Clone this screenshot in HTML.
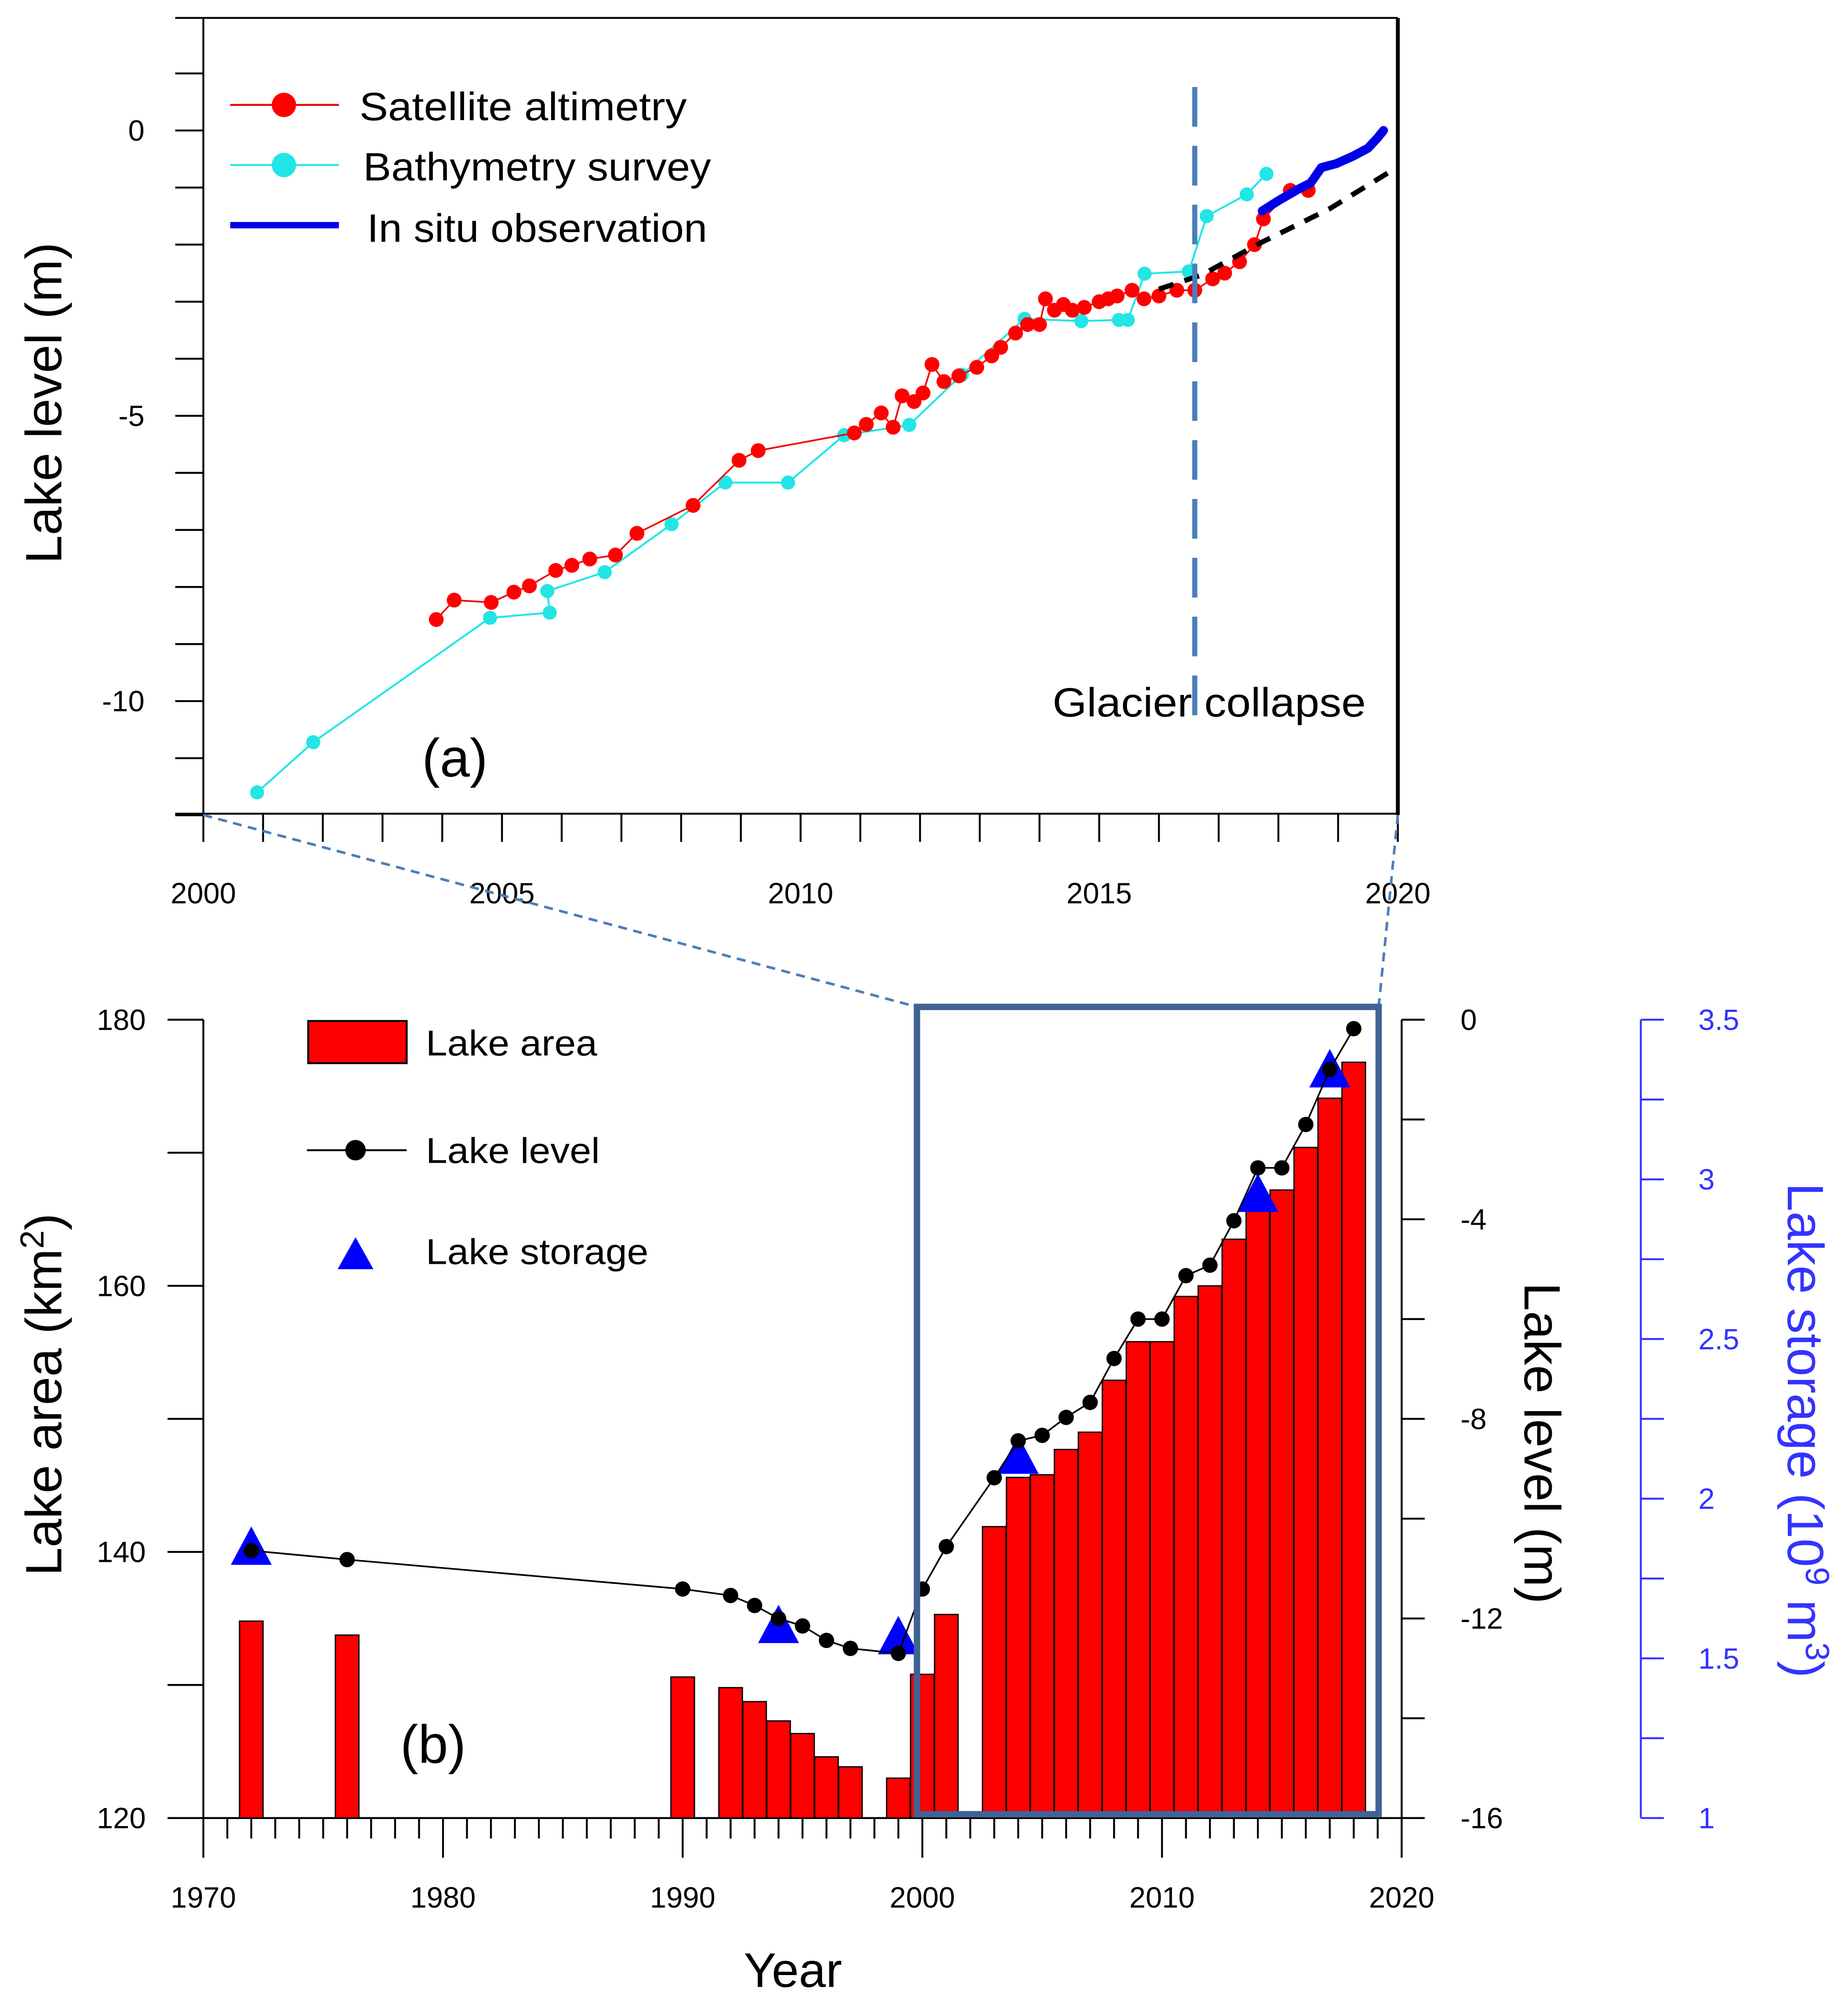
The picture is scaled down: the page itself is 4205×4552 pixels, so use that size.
<!DOCTYPE html>
<html><head><meta charset="utf-8"><style>
html,body{margin:0;padding:0;background:#fff}
svg{display:block}
text{font-family:"Liberation Sans",sans-serif}
</style></head><body>
<svg id="c" width="4205" height="4552" viewBox="0 0 1445 1564" preserveAspectRatio="none" xmlns="http://www.w3.org/2000/svg">
<rect x="0" y="0" width="1445" height="1564" fill="#fff"/>
<g id="top"></g>
<g id="bot"></g>
</svg>
<script>
// ---------- Panel (a) data ----------
const satYears=[2003.9,2004.2,2004.82,2005.2,2005.46,2005.9,2006.17,2006.47,2006.9,2007.26,2008.2,2008.97,2009.29,2010.9,2011.1,2011.35,2011.55,2011.7,2011.9,2012.05,2012.2,2012.4,2012.65,2012.95,2013.2,2013.35,2013.6,2013.8,2014.0,2014.1,2014.25,2014.4,2014.55,2014.75,2015.0,2015.15,2015.3,2015.55,2015.75,2016.0,2016.3,2016.6,2016.9,2017.1,2017.35,2017.6,2017.75,2018.2,2018.5];
const satLevels=[-8.57,-8.23,-8.27,-8.09,-7.98,-7.71,-7.62,-7.51,-7.44,-7.06,-6.57,-5.78,-5.61,-5.3,-5.15,-4.95,-5.2,-4.65,-4.75,-4.6,-4.1,-4.4,-4.3,-4.15,-3.95,-3.8,-3.55,-3.4,-3.4,-2.95,-3.15,-3.05,-3.15,-3.1,-3.0,-2.95,-2.9,-2.8,-2.95,-2.9,-2.8,-2.8,-2.6,-2.5,-2.3,-2.0,-1.55,-1.05,-1.05];
const batYears=[2000.9,2001.84,2004.8,2005.8,2005.76,2006.72,2007.84,2008.74,2009.79,2010.73,2011.82,2012.7,2013.75,2014.7,2015.33,2015.48,2015.76,2016.5,2016.8,2017.47,2017.8];
const batLevels=[-11.6,-10.72,-8.54,-8.45,-8.07,-7.74,-6.9,-6.17,-6.17,-5.34,-5.16,-4.28,-3.3,-3.34,-3.32,-3.32,-2.51,-2.47,-1.5,-1.12,-0.76];
const insituYears=[2017.73,2018.0,2018.33,2018.54,2018.72,2018.97,2019.25,2019.5,2019.66,2019.76];
const insituLevels=[-1.41,-1.23,-1.03,-0.92,-0.65,-0.58,-0.45,-0.31,-0.13,0];
const trendYears=[2016.0,2016.72,2017.7,2018.86,2019.87];
const trendLevels=[-2.78,-2.53,-1.97,-1.37,-0.72];
const topYTicks=[0,-5,-10];
const topXTicks=[2000,2005,2010,2015,2020];
const collapseYear=2016.6;

// ---------- Panel (b) data ----------
const areaYears=[1972,1976,1990,1992,1993,1994,1995,1996,1997,1999,2000,2001,2003,2004,2005,2006,2007,2008,2009,2010,2011,2012,2013,2014,2015,2016,2017,2018];
const areaValues=[134.8,133.75,130.6,129.8,128.75,127.3,126.35,124.6,123.85,123.0,130.8,135.3,141.9,145.6,145.8,147.7,149.0,152.9,155.8,155.8,159.2,160.0,163.5,165.7,167.2,170.4,174.1,176.8];
const levelYears=[1972,1976,1990,1992,1993,1994,1995,1996,1997,1999,2000,2001,2003,2004,2005,2006,2007,2008,2009,2010,2011,2012,2013,2014,2015,2016,2017,2018];
const levelValues=[-10.64,-10.82,-11.41,-11.54,-11.74,-12.0,-12.15,-12.44,-12.6,-12.7,-11.41,-10.56,-9.18,-8.44,-8.33,-7.97,-7.67,-6.79,-6.0,-6.0,-5.13,-4.92,-4.03,-2.97,-2.97,-2.1,-1.0,-0.18];
const storageYears=[1972,1994,1999,2004,2014,2017];
const storageValues=[1.845,1.6,1.565,2.13,2.95,3.34];
const areaTicks=[120,140,160,180];
const levelTicks=[0,-4,-8,-12,-16];
const storageTicks=[3.5,3,2.5,2,1.5,1];
const botXTicks=[1970,1980,1990,2000,2010,2020];

const NS='http://www.w3.org/2000/svg';
function mk(parent,tag,attrs,txt){const e=document.createElementNS(NS,tag);for(const k in attrs)e.setAttribute(k,attrs[k]);if(txt!==undefined)e.textContent=txt;parent.appendChild(e);return e;}

// ===== Panel a =====
const T=document.getElementById('top');
const ax=y=>159+(y-2000)*46.7, ay=v=>102-v*44.6;
let e;
e=mk(T,'line',{x1:137,y1:14,x2:1093,y2:14,stroke:'#000','stroke-width':1.5});

e=mk(T,'line',{x1:1093,y1:14,x2:1093,y2:637,stroke:'#000','stroke-width':3});

e=mk(T,'line',{x1:159,y1:14,x2:159,y2:637,stroke:'#000','stroke-width':1.5});

e=mk(T,'line',{x1:137,y1:636,x2:1093,y2:636,stroke:'#000','stroke-width':1.5});

for(let v=-12;v<=1;v++){e=mk(T,'line',{x1:137,y1:ay(v),x2:159,y2:ay(v),stroke:'#000','stroke-width':1.5});
}
topYTicks.forEach(v=>{e=mk(T,'text',{x:113,y:ay(v)+8,'font-size':23,'text-anchor':'end'},String(v));
});
for(let y=2000;y<=2020;y++){e=mk(T,'line',{x1:ax(y),y1:636,x2:ax(y),y2:658,stroke:'#000','stroke-width':1.5});
}
topXTicks.forEach(y=>{e=mk(T,'text',{x:ax(y),y:706,'font-size':23,'text-anchor':'middle'},String(y));
});
e=mk(T,'text',{x:0,y:0,'font-size':40,'text-anchor':'middle',transform:'translate(48,315) rotate(-90)'},'Lake level (m)');

function pts(xs,vs){return xs.map((x,i)=>ax(x)+','+ay(vs[i])).join(' ');}
e=mk(T,'polyline',{points:pts(batYears,batLevels),fill:'none',stroke:'#22e5e5','stroke-width':1.5});

batYears.forEach((x,i)=>{e=mk(T,'circle',{cx:ax(x),cy:ay(batLevels[i]),r:5.5,fill:'#22e5e5'});
});
e=mk(T,'polyline',{points:pts(satYears,satLevels),fill:'none',stroke:'#e00','stroke-width':1.3});

satYears.forEach((x,i)=>{e=mk(T,'circle',{cx:ax(x),cy:ay(satLevels[i]),r:5.8,fill:'#f00'});
});
e=mk(T,'polyline',{points:pts(trendYears,trendLevels),fill:'none',stroke:'#000','stroke-width':4,'stroke-dasharray':'12 9'});

e=mk(T,'polyline',{points:pts(insituYears,insituLevels),fill:'none',stroke:'#0000e6','stroke-width':7,'stroke-linejoin':'round','stroke-linecap':'round'});

e=mk(T,'line',{x1:ax(collapseYear),y1:68,x2:ax(collapseYear),y2:567,stroke:'#4a7ebb','stroke-width':4,'stroke-dasharray':'31 15'});

e=mk(T,'text',{x:823,y:560,'font-size':32,textLength:245,lengthAdjust:'spacingAndGlyphs'},'Glacier collapse');

e=mk(T,'text',{x:330,y:607,'font-size':42},'(a)');

e=mk(T,'line',{x1:180,y1:82,x2:265,y2:82,stroke:'#e00','stroke-width':1.5});

e=mk(T,'circle',{cx:222,cy:82,r:9.5,fill:'#f00'});

e=mk(T,'text',{x:281,y:94,'font-size':31,textLength:256,lengthAdjust:'spacingAndGlyphs'},'Satellite altimetry');

e=mk(T,'line',{x1:180,y1:129,x2:265,y2:129,stroke:'#22e5e5','stroke-width':1.5});

e=mk(T,'circle',{cx:222,cy:129,r:9.5,fill:'#22e5e5'});

e=mk(T,'text',{x:284,y:141,'font-size':31,textLength:272,lengthAdjust:'spacingAndGlyphs'},'Bathymetry survey');

e=mk(T,'line',{x1:180,y1:176,x2:265,y2:176,stroke:'#0000e6','stroke-width':5});

e=mk(T,'text',{x:287,y:189,'font-size':31,textLength:266,lengthAdjust:'spacingAndGlyphs'},'In situ observation');

e=mk(T,'line',{x1:159,y1:637,x2:717,y2:787,stroke:'#4a7ebb','stroke-width':2,'stroke-dasharray':'7 5'});

e=mk(T,'line',{x1:1093,y1:637,x2:1078,y2:787,stroke:'#4a7ebb','stroke-width':2,'stroke-dasharray':'7 5'});


// ===== Panel b =====
const B=document.getElementById('bot');
const bx=y=>159+(y-1970)*18.74, by=a=>1421-(a-120)*10.4, bl=v=>797-v*39, bs=s=>1421-(s-1)*249.6;
e=mk(B,'line',{x1:159,y1:797,x2:159,y2:1421,stroke:'#000','stroke-width':1.5});

e=mk(B,'line',{x1:159,y1:1421,x2:1096,y2:1421,stroke:'#000','stroke-width':1.5});

for(let a=120;a<=180;a+=10){e=mk(B,'line',{x1:131,y1:by(a),x2:159,y2:by(a),stroke:'#000','stroke-width':1.5});
}
areaTicks.forEach(a=>{e=mk(B,'text',{x:114,y:by(a)+8,'font-size':23,'text-anchor':'end'},String(a));
});
for(let y=1970;y<=2020;y++){const maj=y%10===0;e=mk(B,'line',{x1:bx(y),y1:1421,x2:bx(y),y2:maj?1452:1437,stroke:'#000','stroke-width':1.5});
}
botXTicks.forEach(y=>{e=mk(B,'text',{x:bx(y),y:1491,'font-size':23,'text-anchor':'middle'},String(y));
});
e=mk(B,'line',{x1:1096,y1:797,x2:1096,y2:1421,stroke:'#000','stroke-width':1.5});

for(let v=0;v>=-16;v-=2){e=mk(B,'line',{x1:1096,y1:bl(v),x2:1114,y2:bl(v),stroke:'#000','stroke-width':1.5});
}
levelTicks.forEach(v=>{e=mk(B,'text',{x:1142,y:bl(v)+8,'font-size':23},String(v));
});
e=mk(B,'text',{x:0,y:0,'font-size':40,'text-anchor':'middle',transform:'translate(1192,1128) rotate(90)'},'Lake level (m)');

e=mk(B,'line',{x1:1283,y1:797,x2:1283,y2:1421,stroke:'#3333ff','stroke-width':1.5});

for(let s=1;s<=3.51;s+=0.25){e=mk(B,'line',{x1:1283,y1:bs(s),x2:1301,y2:bs(s),stroke:'#3333ff','stroke-width':1.5});
}
storageTicks.forEach(s=>{e=mk(B,'text',{x:1328,y:bs(s)+8,'font-size':23,fill:'#3333ff'},String(s));
});
e=mk(B,'text',{x:0,y:0,'font-size':40,'text-anchor':'middle',fill:'#3333ff',transform:'translate(1398,1118) rotate(90)'});

e.innerHTML='Lake storage (10<tspan dy="-14" font-size="26">9</tspan><tspan dy="14"> m</tspan><tspan dy="-14" font-size="26">3</tspan><tspan dy="14">)</tspan>';
e=mk(B,'text',{x:0,y:0,'font-size':40,'text-anchor':'middle',transform:'translate(48,1090) rotate(-90)'});

e.innerHTML='Lake area (km<tspan dy="-14" font-size="26">2</tspan><tspan dy="14">)</tspan>';
e=mk(B,'text',{x:620,y:1553,'font-size':38,'text-anchor':'middle'},'Year');

areaYears.forEach((y,i)=>{const top=by(areaValues[i]);e=mk(B,'rect',{x:bx(y)-9.2,y:top,width:18.4,height:1421-top,fill:'#f00',stroke:'#000','stroke-width':1});
});
storageYears.forEach((y,i)=>{const cx=bx(y),cy=bs(storageValues[i]);e=mk(B,'polygon',{points:(cx-16)+','+(cy+13)+' '+(cx+16)+','+(cy+13)+' '+cx+','+(cy-17),fill:'#0000ff'});
});
e=mk(B,'polyline',{points:levelYears.map((y,i)=>bx(y)+','+bl(levelValues[i])).join(' '),fill:'none',stroke:'#000','stroke-width':1.3});

levelYears.forEach((y,i)=>{e=mk(B,'circle',{cx:bx(y),cy:bl(levelValues[i]),r:6,fill:'#000'});
});
e=mk(B,'rect',{x:717,y:787,width:361,height:631,fill:'none',stroke:'#3f6494','stroke-width':5});

e=mk(B,'text',{x:313,y:1378,'font-size':42},'(b)');

e=mk(B,'rect',{x:241,y:798,width:77,height:33,fill:'#f00',stroke:'#000','stroke-width':1.5});

e=mk(B,'text',{x:333,y:825,'font-size':28,textLength:134,lengthAdjust:'spacingAndGlyphs'},'Lake area');

e=mk(B,'line',{x1:240,y1:899,x2:318,y2:899,stroke:'#000','stroke-width':1.5});

e=mk(B,'circle',{cx:278,cy:899,r:8,fill:'#000'});

e=mk(B,'text',{x:333,y:909,'font-size':28,textLength:136,lengthAdjust:'spacingAndGlyphs'},'Lake level');

e=mk(B,'polygon',{points:'264,992 292,992 278,967',fill:'#0000ff'});

e=mk(B,'text',{x:333,y:988,'font-size':28,textLength:174,lengthAdjust:'spacingAndGlyphs'},'Lake storage');

</script>
</body></html>
